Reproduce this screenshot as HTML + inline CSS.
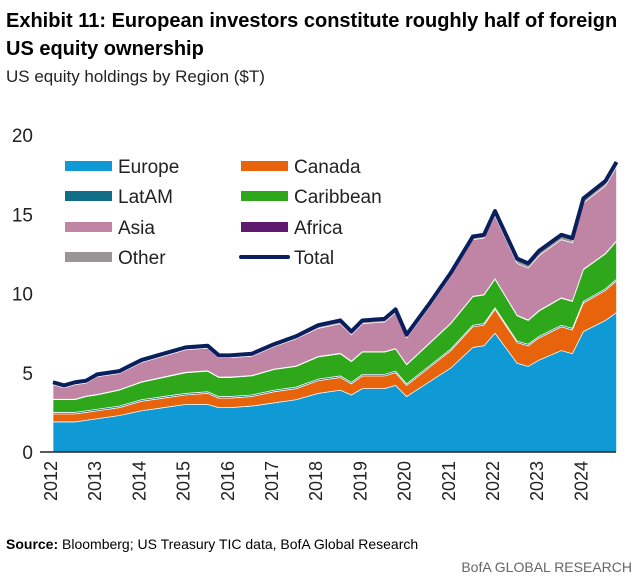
<!DOCTYPE html>
<html><head><meta charset="utf-8"><style>
body{margin:0;background:#fff;width:643px;height:579px;overflow:hidden;font-family:"Liberation Sans",sans-serif;}
</style></head><body>
<svg width="643" height="579" font-family="Liberation Sans, sans-serif">
<text x="6" y="27" font-size="20" font-weight="bold" fill="#000">Exhibit 11: European investors constitute roughly half of foreign</text>
<text x="6" y="55" font-size="20" font-weight="bold" fill="#000">US equity ownership</text>
<text x="6" y="82" font-size="17" fill="#222">US equity holdings by Region ($T)</text>
<g id="plot"></g>
<g id="legend"></g>
<text x="6" y="549" font-size="14" fill="#000"><tspan font-weight="bold">Source:</tspan> Bloomberg; US Treasury TIC data, BofA Global Research</text>
<text x="632" y="572" font-size="14" fill="#666" text-anchor="end">BofA GLOBAL RESEARCH</text>
</svg>
<script>
const dates=[2012,2012.25,2012.5,2012.75,2013,2013.5,2014,2014.5,2015,2015.5,2015.75,2016,2016.5,2017,2017.5,2018,2018.5,2018.75,2019,2019.5,2019.75,2020,2020.5,2021,2021.5,2021.75,2022,2022.5,2022.75,2023,2023.5,2023.75,2024,2024.5,2024.75];
const europe=[1.9,1.9,1.9,2.0,2.1,2.3,2.6,2.8,3.0,3.0,2.8,2.8,2.9,3.1,3.3,3.7,3.9,3.6,4.0,4.0,4.2,3.5,4.4,5.3,6.6,6.7,7.5,5.6,5.4,5.8,6.4,6.2,7.6,8.3,8.8];
const canada=[0.5,0.5,0.5,0.5,0.5,0.5,0.6,0.6,0.6,0.7,0.6,0.6,0.6,0.7,0.7,0.8,0.8,0.7,0.8,0.8,0.8,0.7,0.9,1.1,1.3,1.3,1.5,1.3,1.3,1.4,1.5,1.5,1.8,1.9,2.0];
const latam=[0.1,0.1,0.1,0.1,0.1,0.1,0.1,0.1,0.1,0.1,0.1,0.1,0.1,0.1,0.1,0.1,0.1,0.1,0.1,0.1,0.1,0.1,0.1,0.1,0.1,0.1,0.1,0.1,0.1,0.1,0.1,0.1,0.1,0.1,0.1];
const caribbean=[0.8,0.8,0.8,0.9,0.9,1.0,1.1,1.2,1.3,1.3,1.2,1.2,1.2,1.3,1.3,1.4,1.4,1.3,1.4,1.4,1.4,1.2,1.4,1.6,1.8,1.8,1.8,1.6,1.5,1.6,1.7,1.7,2.0,2.2,2.4];
const africa=[0.03,0.03,0.03,0.03,0.03,0.03,0.03,0.03,0.03,0.03,0.03,0.03,0.03,0.03,0.03,0.03,0.03,0.03,0.03,0.03,0.03,0.03,0.03,0.03,0.03,0.03,0.03,0.03,0.03,0.03,0.03,0.03,0.03,0.03,0.03];
const asia=[0.92,0.72,0.92,0.82,1.12,1.02,1.22,1.32,1.42,1.42,1.22,1.22,1.22,1.42,1.72,1.77,1.87,1.67,1.77,1.87,2.27,1.67,2.27,2.97,3.57,3.57,3.97,3.27,3.27,3.47,3.67,3.67,4.17,4.27,4.67];
const other=[0.15,0.15,0.15,0.15,0.15,0.15,0.15,0.15,0.15,0.15,0.15,0.15,0.15,0.15,0.15,0.2,0.2,0.2,0.2,0.2,0.2,0.2,0.2,0.2,0.2,0.2,0.3,0.3,0.3,0.3,0.3,0.3,0.3,0.3,0.3];
const total=[4.4,4.2,4.4,4.5,4.9,5.1,5.8,6.2,6.6,6.7,6.1,6.1,6.2,6.8,7.3,8.0,8.3,7.6,8.3,8.4,9.0,7.4,9.3,11.3,13.6,13.7,15.2,12.2,11.9,12.7,13.7,13.5,16.0,17.1,18.3];
const yTicks=[0,5,10,15,20];
const xYears=[2012,2013,2014,2015,2016,2017,2018,2019,2020,2021,2022,2023,2024];

const NS="http://www.w3.org/2000/svg";
const X=d=>53+(d-2012)*44.2;
const Y=v=>452-v*15.85;
function mk(tag,attrs,parent){const e=document.createElementNS(NS,tag);for(const k in attrs)e.setAttribute(k,attrs[k]);parent.appendChild(e);return e;}
const plot=document.getElementById('plot');
const layers=[["europe",europe,"#0f9ad6"],["canada",canada,"#e8640c"],["latam",latam,"#116e88"],["caribbean",caribbean,"#2ea81a"],["africa",africa,"#5e1a6e"],["asia",asia,"#c084a4"],["other",other,"#999597"]];
let base=dates.map(()=>0);
layers.forEach(([name,vals,col])=>{
  const top=base.map((b,i)=>b+vals[i]);
  let d="M"+dates.map((t,i)=>X(t)+","+Y(top[i])).join(" L");
  for(let i=dates.length-1;i>=0;i--)d+=" L"+X(dates[i])+","+Y(base[i]);
  d+="Z";
  const p=mk('path',{d:d,fill:col,stroke:'#fff','stroke-width':0.7},plot);
  
  
  base=top;
});
const tl=mk('polyline',{points:dates.map((t,i)=>X(t)+","+Y(total[i])).join(" "),fill:'none',stroke:'#0a1f5c','stroke-width':4,'stroke-linejoin':'round'},plot);


const ax=mk('line',{x1:40,x2:616,y1:452,y2:452,stroke:'#222','stroke-width':1.5},plot);


yTicks.forEach(v=>{
  const t=mk('text',{x:33,y:Y(v)+7,'font-size':19,'text-anchor':'end',fill:'#222'},plot);
  t.textContent=v;
  
  
});
xYears.forEach(yr=>{
  const x=X(yr)+4;
  const t=mk('text',{x:0,y:0,'font-size':18,'text-anchor':'end',fill:'#222',transform:`translate(${x},461) rotate(-90)`},plot);
  t.textContent=yr;
  
  
});
const leg=document.getElementById('legend');
const items=[["Europe","#0f9ad6",65,166],["Canada","#e8640c",241,166],["LatAM","#116e88",65,196],["Caribbean","#2ea81a",241,196],["Asia","#c084a4",65,227],["Africa","#5e1a6e",241,227],["Other","#999597",65,257]];
items.forEach(([lab,col,x,y])=>{
  const g=mk('g',{},leg);
  
  
  mk('rect',{x:x,y:y-5,width:47,height:10,fill:col},g);
  const t=mk('text',{x:x+53,y:y+7,'font-size':19,fill:'#222'},g);
  t.textContent=lab;
});
const gt=mk('g',{},leg);


mk('line',{x1:241,x2:288,y1:257,y2:257,stroke:'#0a1f5c','stroke-width':4,'stroke-linecap':'round'},gt);
const tt=mk('text',{x:294,y:264,'font-size':19,fill:'#222'},gt);
tt.textContent="Total";
</script>
</body></html>
